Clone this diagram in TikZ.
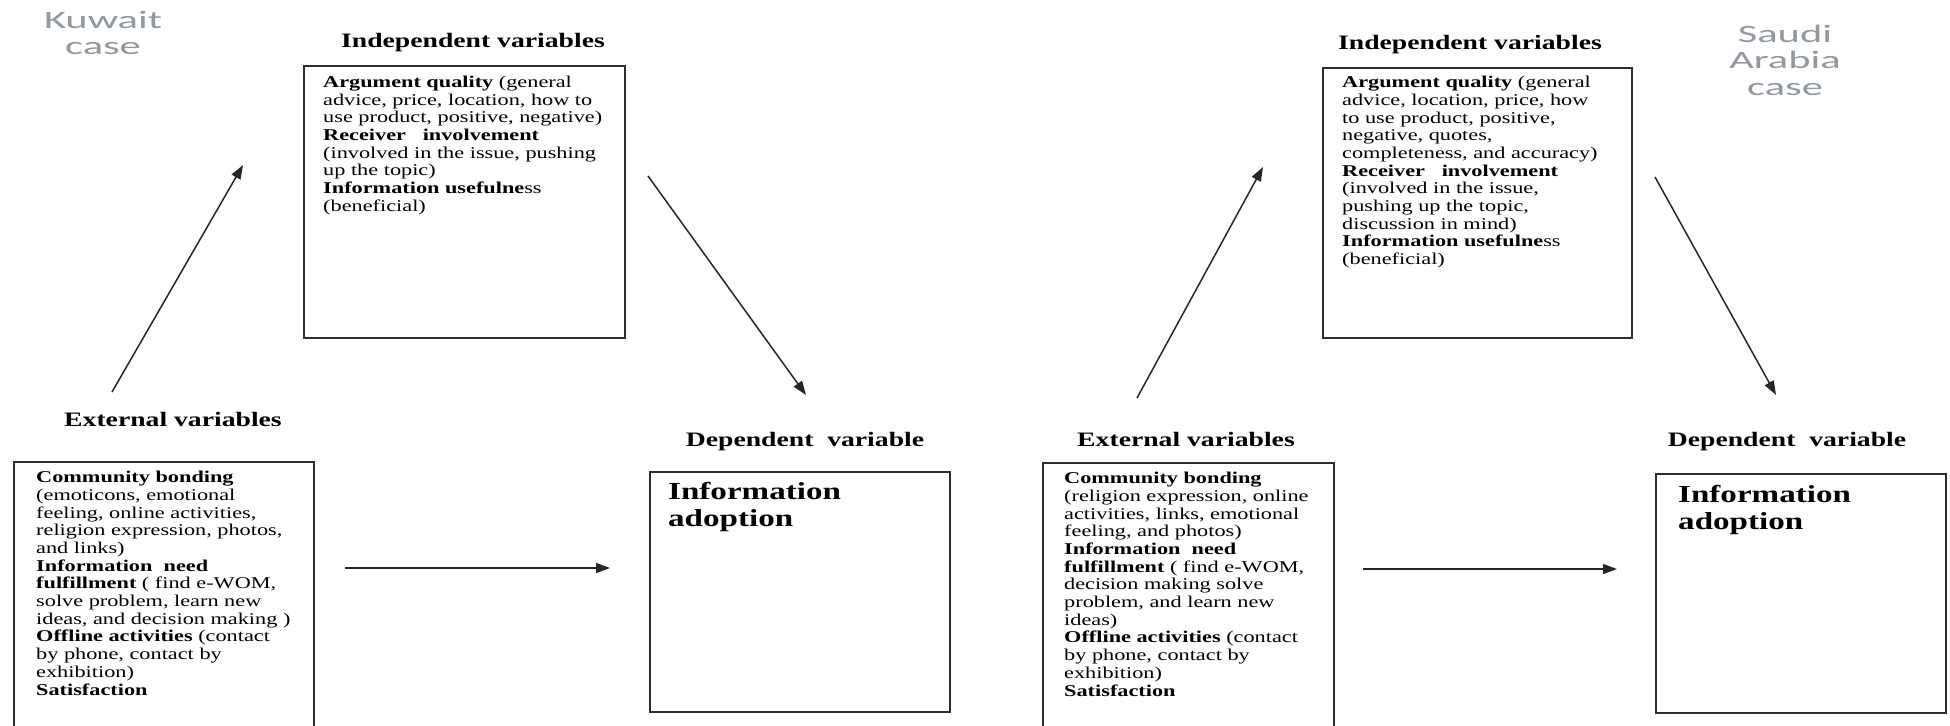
\documentclass[tikz,border=0pt]{standalone}
\usepackage{fontspec}
\usetikzlibrary{arrows.meta, positioning}
\setmainfont{Liberation Serif}[FakeStretch=1.35]
\newfontfamily\casefont{Carlito}[FakeStretch=1.7]
\definecolor{casegray}{RGB}{145,152,160}
\definecolor{boxline}{RGB}{45,45,45}
\tikzset{
  varbox/.style={draw=boxline, line width=1.8pt, inner sep=0pt, anchor=north west},
  boxtext/.style={inner sep=0pt, align=left, font=\fontsize{16.5}{17.7}\selectfont},
  adopttext/.style={inner sep=0pt, align=left, font=\fontsize{24.5}{26.7}\selectfont\bfseries},
  headlbl/.style={anchor=base, inner sep=0pt, font=\fontsize{20.5}{24}\selectfont\bfseries},
  casetext/.style={anchor=north, inner sep=0pt, align=center, text=casegray,
                   font=\fontsize{25}{26.5}\selectfont\casefont},
  link/.style={-{Triangle[length=14pt,width=10pt]}, line width=1.5pt, draw=black!85}
}

\begin{document}
\begin{tikzpicture}[x=1pt, y=-1pt]
  \useasboundingbox (0,0) rectangle (1950,725);
  \clip (0,0) rectangle (1950,725);

  % ---------- case titles ----------
  \node[casetext] (kwcase) at (103,11) {Kuwait\\case};
  \node[casetext] (sacase) at (1785,24.5) {Saudi\\Arabia\\case};

  % ---------- Kuwait: boxes ----------
  \node[varbox, minimum width=321pt, minimum height=272pt] (indL) at (303,65) {};
  \node[varbox, minimum width=300pt, minimum height=320pt] (extL) at (13,461) {};
  \node[varbox, minimum width=300pt, minimum height=240pt] (depL) at (649,471) {};

  \node[headlbl] (indLlbl) at (473,48)  {Independent variables};
  \node[headlbl] (extLlbl) at (173,426) {External variables};
  \node[headlbl] (depLlbl) at (805,446) {Dependent~ variable};

  \node[boxtext, below right=10.7pt and 20pt of indL.north west] (indLtxt)
    {\textbf{Argument quality} (general\\
     advice, price, location, how to\\
     use product, positive, negative)\\
     \textbf{Receiver~~ involvement}\\
     (involved in the issue, pushing\\
     up the topic)\\
     \textbf{Information usefulne}ss\\
     (beneficial)};
  \node[boxtext, below right=10pt and 23pt of extL.north west] (extLtxt)
    {\textbf{Community bonding}\\
     (emoticons, emotional\\
     feeling, online activities,\\
     religion expression, photos,\\
     and links)\\
     \textbf{Information~ need}\\
     \textbf{fulfillment} ( find e-WOM,\\
     solve problem, learn new\\
     ideas, and decision making )\\
     \textbf{Offline activities} (contact\\
     by phone, contact by\\
     exhibition)\\
     \textbf{Satisfaction}};
  \node[adopttext, below right=11pt and 19pt of depL.north west] (depLtxt)
    {Information\\adoption};

  % ---------- Saudi Arabia: boxes ----------
  \node[varbox, minimum width=309pt, minimum height=270pt] (indR) at (1322,67) {};
  \node[varbox, minimum width=291pt, minimum height=320pt] (extR) at (1042,462) {};
  \node[varbox, minimum width=290pt, minimum height=239pt] (depR) at (1655,473) {};

  \node[headlbl] (indRlbl) at (1470,49)  {Independent variables};
  \node[headlbl] (extRlbl) at (1186,446) {External variables};
  \node[headlbl] (depRlbl) at (1787,446) {Dependent~ variable};

  \node[boxtext, below right=9pt and 20pt of indR.north west] (indRtxt)
    {\textbf{Argument quality} (general\\
     advice, location, price, how\\
     to use product, positive,\\
     negative, quotes,\\
     completeness, and accuracy)\\
     \textbf{Receiver~~ involvement}\\
     (involved in the issue,\\
     pushing up the topic,\\
     discussion in mind)\\
     \textbf{Information usefulne}ss\\
     (beneficial)};
  \node[boxtext, below right=10pt and 22pt of extR.north west] (extRtxt)
    {\textbf{Community bonding}\\
     (religion expression, online\\
     activities, links, emotional\\
     feeling, and photos)\\
     \textbf{Information~ need}\\
     \textbf{fulfillment} ( find e-WOM,\\
     decision making solve\\
     problem, and learn new\\
     ideas)\\
     \textbf{Offline activities} (contact\\
     by phone, contact by\\
     exhibition)\\
     \textbf{Satisfaction}};
  \node[adopttext, below right=12pt and 23pt of depR.north west] (depRtxt)
    {Information\\adoption};

  % ---------- arrows (free ends) ----------
  \coordinate (upL0) at (112,392);  \coordinate (upL1) at (243,165);
  \coordinate (dnL0) at (648,176);  \coordinate (dnL1) at (806,395);
  \coordinate (hzL0) at (345,568);  \coordinate (hzL1) at (610,568);
  \coordinate (upR0) at (1137,398); \coordinate (upR1) at (1263,167);
  \coordinate (dnR0) at (1655,177); \coordinate (dnR1) at (1776,395);
  \coordinate (hzR0) at (1363,569); \coordinate (hzR1) at (1617,569);

  \draw[link] (upL0) -- (upL1);
  \draw[link] (dnL0) -- (dnL1);
  \draw[link] (hzL0) -- (hzL1);
  \draw[link] (upR0) -- (upR1);
  \draw[link] (dnR0) -- (dnR1);
  \draw[link] (hzR0) -- (hzR1);

\end{tikzpicture}
\end{document}
